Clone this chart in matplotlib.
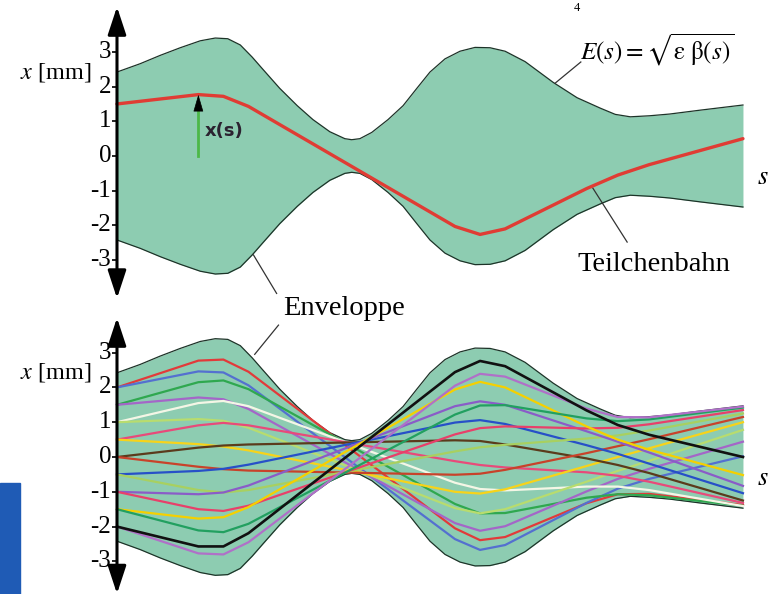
import matplotlib
matplotlib.use('Agg')
import matplotlib.pyplot as plt
from matplotlib.patches import Rectangle

plt.rcParams['font.family'] = ['Liberation Serif', 'DejaVu Serif']
plt.rcParams['mathtext.fontset'] = 'stix'

# envelope E(s), symmetric about the s axis
s_env = [0, 0.37, 0.69, 1.01, 1.33, 1.57, 1.77, 1.97, 2.16, 2.33, 2.60, 2.88,
         3.13, 3.40, 3.64, 3.75, 3.88, 4.07, 4.33, 4.57, 4.79, 5.00, 5.24, 5.48,
         5.72, 5.96, 6.20, 6.52, 6.97, 7.35, 7.72, 7.96, 8.20, 8.51, 8.83, 9.31, 10.0]
e_env = [2.42, 2.66, 2.90, 3.12, 3.32, 3.40, 3.38, 3.20, 2.85, 2.50, 1.95, 1.45,
         1.05, 0.70, 0.50, 0.47, 0.50, 0.68, 1.05, 1.45, 1.95, 2.42, 2.80, 3.02,
         3.13, 3.12, 3.02, 2.72, 2.12, 1.68, 1.38, 1.20, 1.13, 1.16, 1.21, 1.32, 1.47]

# sample positions along s for the particle paths
s_path = [0, 1.3, 1.7, 2.1, 5.4, 5.8, 6.2, 7.5, 8.0, 8.5, 10.0]

# single particle (top panel)
x_top = [1.5, 1.77, 1.72, 1.43, -2.03, -2.26, -2.10, -0.94, -0.55, -0.25, 0.5]

# many particles (bottom panel)
x_red = [2.0, 2.77, 2.80, 2.45, -2.05, -2.39, -2.30, -1.33, -1.07, -1.06, -1.38]
x_blue = [2.0, 2.46, 2.43, 2.06, -2.36, -2.67, -2.53, -1.32, -0.91, -0.63, 0.02]
x_green = [1.5, 2.15, 2.20, 1.95, -1.35, -1.62, -1.61, -1.17, -1.07, -1.10, -1.40]
x_purple = [1.5, 1.71, 1.66, 1.38, -1.90, -2.12, -1.99, -0.99, -0.63, -0.34, 0.44]
x_white = [1.0, 1.55, 1.61, 1.46, -0.74, -0.92, -0.96, -0.85, -0.85, -0.95, -1.41]
x_lime = [1.0, 1.09, 1.04, 0.84, -1.47, -1.62, -1.50, -0.71, -0.40, -0.11, 0.78]
x_pink = [0.5, 0.91, 0.98, 0.91, -0.12, -0.23, -0.30, -0.44, -0.54, -0.71, -1.32]
x_yellow = [0.5, 0.37, 0.30, 0.19, -1.00, -1.05, -0.93, -0.26, 0.0, 0.25, 1.0]
x_brown = [0.0, 0.27, 0.33, 0.36, 0.48, 0.46, 0.36, -0.04, -0.23, -0.46, -1.25]
x_rust = [0.0, -0.28, -0.35, -0.39, -0.51, -0.48, -0.37, 0.11, 0.31, 0.51, 1.15]
x_blue2 = [-0.5, -0.40, -0.34, -0.22, 0.99, 1.06, 0.95, 0.34, 0.09, -0.19, -1.04]
x_lime2 = [-0.5, -0.95, -1.02, -0.95, 0.16, 0.28, 0.35, 0.53, 0.62, 0.76, 1.25]
x_purple2 = [-1.0, -1.07, -1.02, -0.82, 1.46, 1.60, 1.50, 0.74, 0.44, 0.13, -0.83]
x_pink2 = [-1.0, -1.50, -1.55, -1.40, 0.65, 0.83, 0.88, 0.82, 0.84, 0.94, 1.35]
x_yellow2 = [-1.5, -1.77, -1.73, -1.44, 1.94, 2.16, 2.00, 0.88, 0.50, 0.21, -0.52]
x_green2 = [-1.5, -2.11, -2.16, -1.92, 1.22, 1.48, 1.49, 1.11, 1.03, 1.08, 1.42]
x_magenta = [-2.0, -2.77, -2.80, -2.45, 2.05, 2.39, 2.31, 1.39, 1.15, 1.14, 1.45]
x_black = [-2.0, -2.57, -2.57, -2.19, 2.44, 2.76, 2.61, 1.34, 0.92, 0.64, 0.0]

tick_values = [-3, -2, -1, 0, 1, 2, 3]

FILL = '#8dccb1'
EDGE = '#1d3328'

bundle = [
    (x_red, '#e23a3a'), (x_blue, '#5470d0'), (x_green, '#2fa84f'),
    (x_purple, '#a466c8'), (x_white, '#f4f6e6'), (x_lime, '#b8dc6e'),
    (x_pink, '#e84a7a'), (x_yellow, '#f7d31a'), (x_brown, '#5b3b1c'),
    (x_rust, '#c8422a'), (x_blue2, '#2750c8'), (x_lime2, '#a8d060'),
    (x_purple2, '#8a5cc8'), (x_pink2, '#e8406a'), (x_yellow2, '#f5d000'),
    (x_green2, '#22a060'), (x_magenta, '#b070c8'), (x_black, '#111111'),
]

fig = plt.figure(figsize=(7.68, 5.94), dpi=100)
ax_top = fig.add_axes([0, 0.4949, 1, 0.5051])
ax_bot = fig.add_axes([0, 0, 1, 0.4949])


def draw_frame(ax, ylo, yhi, arrow_lo, arrow_hi):
    ax.set_xlim(-1.869, 10.40)
    ax.set_ylim(ylo, yhi)
    ax.axis('off')
    lower = [-e for e in e_env]
    ax.fill_between(s_env, lower, e_env, color=FILL, lw=0, zorder=1)
    ax.plot(s_env, e_env, color=EDGE, lw=0.9, zorder=2)
    ax.plot(s_env, lower, color=EDGE, lw=0.9, zorder=2)
    # s axis
    ax.annotate('', xy=(10.42, 0), xytext=(0, 0),
                arrowprops=dict(arrowstyle='-|>,head_length=0.6,head_width=0.3',
                                color='black', lw=1.6, shrinkA=0, shrinkB=0),
                zorder=5)
    ax.text(10.32, -0.62, '$s$', fontsize=19, ha='center', va='center')
    # x axis
    ax.annotate('', xy=(0, arrow_hi), xytext=(0, arrow_lo),
                arrowprops=dict(arrowstyle='<|-|>,head_length=0.85,head_width=0.28',
                                color='black', lw=2.2, shrinkA=0, shrinkB=0,
                                mutation_scale=20),
                zorder=7)
    ax.hlines(tick_values, -0.075, 0, color='black', lw=1.2, zorder=7)
    for v in tick_values:
        ax.text(-0.09, v, str(v), fontsize=18, ha='right', va='center')
    ax.text(-0.40, 2.42, '$x$ [mm]', fontsize=17.5, ha='right', va='center')


draw_frame(ax_top, -4.150, 4.496, -4.10, 4.30)
draw_frame(ax_bot, -3.937, 4.511, -3.93, 4.00)

# top panel: one particle
ax_top.plot(s_path, x_top, color='#e03c34', lw=2.4, zorder=6,
            solid_capstyle='round', solid_joinstyle='round')
ax_top.plot([s_path[1], s_path[1]], [0, x_top[1] - 0.3], color='#4cb848', lw=2.0, zorder=6)
ax_top.annotate('', xy=(s_path[1], x_top[1]), xytext=(s_path[1], x_top[1] - 0.45),
                arrowprops=dict(arrowstyle='-|>,head_length=0.55,head_width=0.16',
                                color='black', lw=0.5, shrinkA=0, shrinkB=0,
                                mutation_scale=20),
                zorder=7)
ax_top.text(s_path[1] + 0.1, 0.72, 'x(s)', family=['DejaVu Sans'], fontweight='bold',
            fontsize=13, color='#2b2230', ha='left', va='center')

ax_top.plot([7.0, 7.41], [2.10, 2.71], color='#333333', lw=0.9, zorder=4)
ax_top.text(8.64, 3.05, r'$E(s) = \sqrt{\mathrm{\varepsilon}\ \mathrm{\beta}(s)}$',
            fontsize=18.2, ha='center', va='center')
ax_top.plot([7.6, 8.15], [-0.92, -2.48], color='#333333', lw=0.9, zorder=4)
ax_top.text(8.58, -3.14, 'Teilchenbahn', fontsize=20.5, ha='center', va='center')
ax_top.plot([2.18, 2.55], [-2.85, -3.96], color='#333333', lw=0.9, zorder=4)

# bottom panel: bundle of particles
for values, colour in bundle:
    lw = 1.9 if colour == '#111111' else 1.6
    ax_bot.plot(s_path, values, color=colour, lw=lw, zorder=3,
                solid_joinstyle='round')
ax_bot.text(3.63, 4.28, 'Enveloppe', fontsize=20.5, ha='center', va='center')
ax_bot.plot([2.58, 2.2], [3.79, 2.95], color='#333333', lw=0.9, zorder=4)

fig.text(0.751, 0.997, '4', fontsize=9, ha='center', va='top')
fig.patches.append(Rectangle((0, 0), 20 / 768, 111 / 594, transform=fig.transFigure,
                             color='#1f5bb5', zorder=10))

fig.savefig('out.png', dpi=100)
